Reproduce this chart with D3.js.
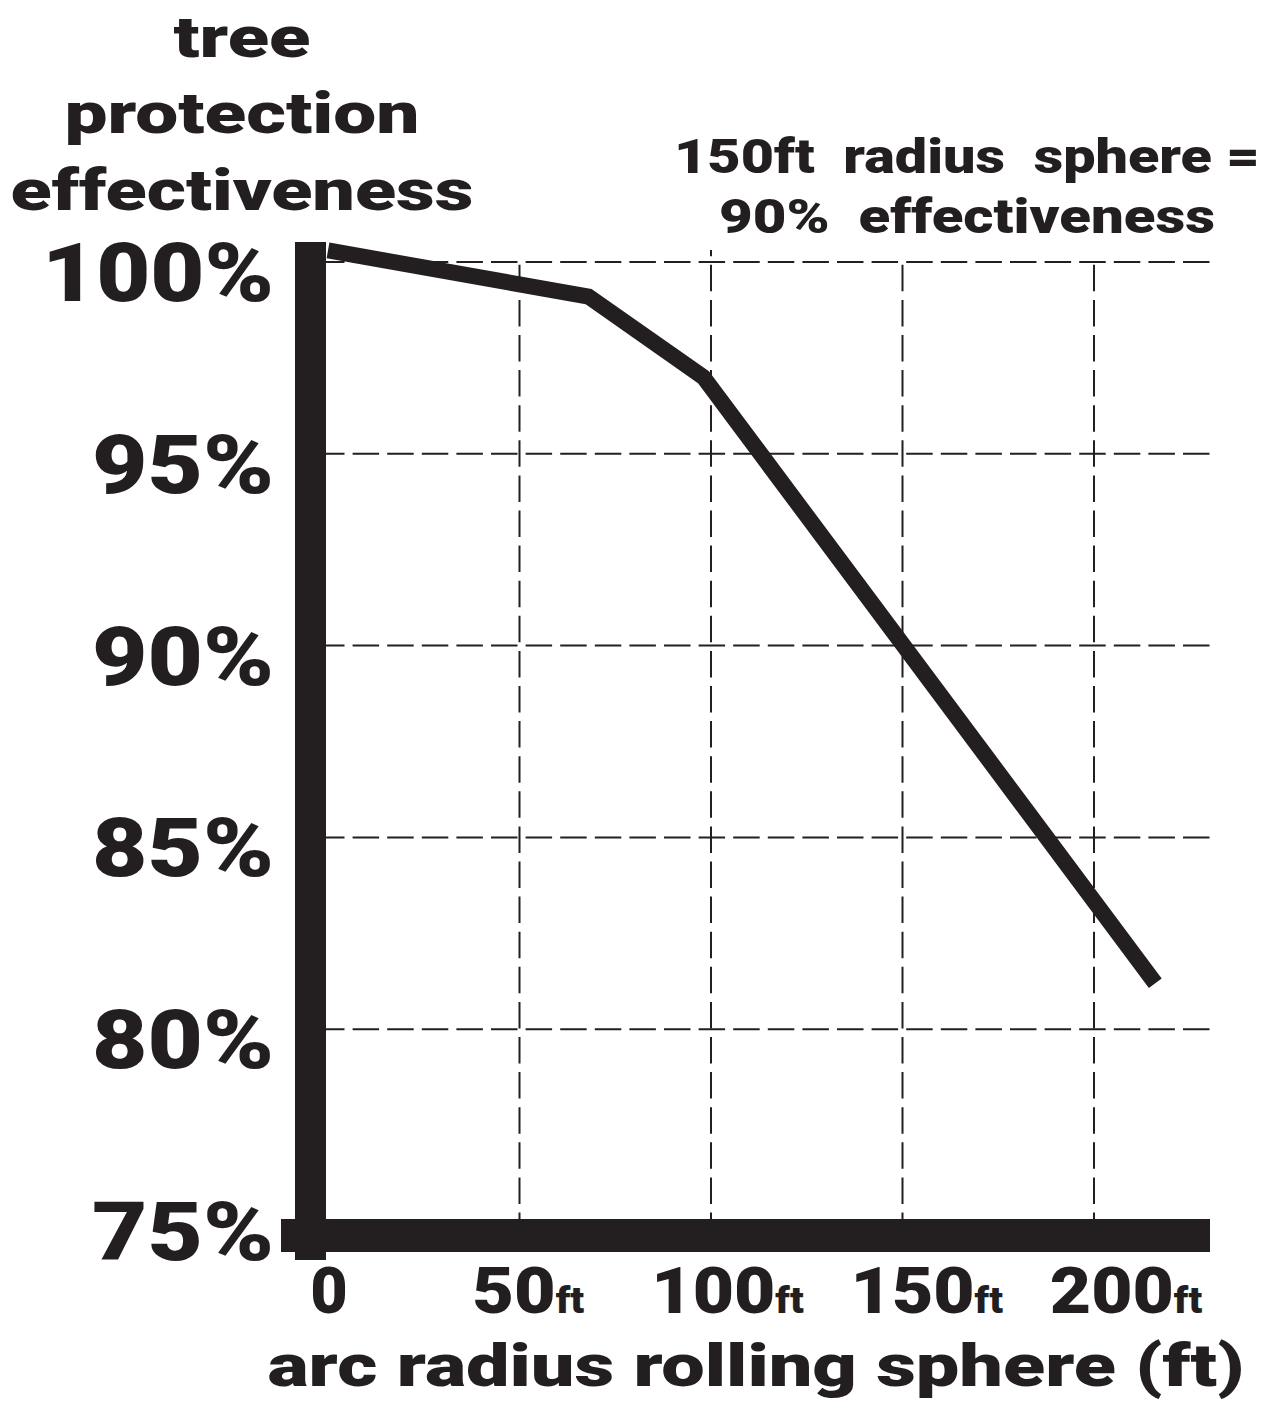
<!DOCTYPE html>
<html>
<head>
<meta charset="utf-8">
<script src="https://cdn.jsdelivr.net/npm/d3@7"></script>
<style>
  html, body { margin: 0; padding: 0; background: #fff; }
  svg { display: block; }
  text { font-family: Roboto, "Liberation Sans", sans-serif; font-weight: 900; fill: #231f20; }
</style>
</head>
<body>
<svg id="chart" width="1273" height="1401"></svg>
<script>
// ---- data ----
const radiusFt = [0, 68, 98, 216];
const effectiveness = [100.3, 99.1, 97.0, 81.2];
const yTicks = [75, 80, 85, 90, 95, 100];
const yTickLabels = ["75%", "80%", "85%", "90%", "95%", "100%"];
const xTicks = [0, 50, 100, 150, 200];
const xTickNumbers = ["0", "50", "100", "150", "200"];
const xTickUnits = ["", "ft", "ft", "ft", "ft"];
const titleLines = ["tree", "protection", "effectiveness"];
const noteLines = ["150ft  radius  sphere =", "90%  effectiveness"];
const xTitle = "arc radius rolling sphere (ft)";

const INK = "#231f20";
const svg = d3.select("#chart");
svg.append("rect").attr("width", 1273).attr("height", 1401).attr("fill", "#fff");

const x = d3.scaleLinear().domain([0, 200]).range([328, 1094]);
const y = d3.scaleLinear().domain([75, 100]).range([1221, 262]);
// tick label centres drift slightly right of grid in the original
const xLabel = d3.scaleLinear().domain([0, 200]).range([329, 1126]);
const xMax = 1210;

// ---- grid ----
const grid = svg.append("g").attr("stroke", INK).attr("stroke-width", 2).attr("fill", "none");
grid.selectAll("line.h").data(yTicks.filter(d => d > 75)).join("line")
  .attr("class", "h")
  .attr("x1", x(0) - 10).attr("x2", xMax)
  .attr("y1", d => y(d)).attr("y2", d => y(d))
  .attr("stroke-dasharray", "26.5 8.1");
grid.selectAll("line.v").data(xTicks.filter(d => d > 0)).join("line")
  .attr("class", "v")
  .attr("x1", d => x(d)).attr("x2", d => x(d))
  .attr("y1", y(75) + 18).attr("y2", d => d === 100 ? y(100) - 12 : y(100))
  .attr("stroke-dasharray", "26.5 8.6");

// ---- data line ----
const pts = radiusFt.map((r, i) => [r, effectiveness[i]]);
svg.append("path")
  .datum(pts)
  .attr("d", d3.line().x(d => x(d[0])).y(d => y(d[1])))
  .attr("fill", "none")
  .attr("stroke", INK)
  .attr("stroke-width", 16)
  .attr("stroke-linejoin", "miter")
  .attr("stroke-linecap", "butt");

// ---- heavy axes ----
svg.append("rect")
  .attr("x", x(0) - 33).attr("width", 31)
  .attr("y", y(100) - 20).attr("height", (y(75) + 39) - (y(100) - 20))
  .attr("fill", INK);
svg.append("rect")
  .attr("x", 281).attr("width", xMax - 281)
  .attr("y", y(75) - 2).attr("height", 33)
  .attr("fill", INK);

// ---- y tick labels ----
svg.selectAll("text.yl").data(yTicks).join("text")
  .attr("class", "yl")
  .attr("x", 274)
  .attr("y", d => y(d) + 39)
  .attr("text-anchor", "end")
  .attr("font-size", 82)
  .attr("textLength", (d, i) => (yTickLabels[i].length - 1) * 50 + 82)
  .attr("lengthAdjust", "spacingAndGlyphs")
  .text((d, i) => yTickLabels[i]);

// ---- x tick labels ----
const xl = svg.selectAll("text.xl").data(xTicks).join("text")
  .attr("class", "xl")
  .attr("x", d => xLabel(d))
  .attr("y", 1313)
  .attr("text-anchor", "middle")
  .attr("textLength", (d, i) => xTickNumbers[i].length * 40.5 + (xTickUnits[i] ? 31 : -3))
  .attr("lengthAdjust", "spacingAndGlyphs");
xl.append("tspan").attr("font-size", 64).text((d, i) => xTickNumbers[i]);
xl.append("tspan").attr("font-size", 36).text((d, i) => xTickUnits[i]);

// ---- axis title ----
svg.append("text")
  .attr("x", 756).attr("y", 1386)
  .attr("text-anchor", "middle")
  .attr("font-size", 60)
  .attr("textLength", 977).attr("lengthAdjust", "spacingAndGlyphs")
  .text(xTitle);

// ---- y title ----
const titleW = [137, 355, 463];
const titleB = [57, 133, 210];
svg.selectAll("text.yt").data(titleLines).join("text")
  .attr("class", "yt")
  .attr("x", 242).attr("y", (d, i) => titleB[i])
  .attr("text-anchor", "middle")
  .attr("font-size", 58)
  .attr("textLength", (d, i) => titleW[i]).attr("lengthAdjust", "spacingAndGlyphs")
  .text(d => d);

// ---- annotation ----
const noteW = [586, 496];
const noteB = [173, 233];
svg.selectAll("text.note").data(noteLines).join("text")
  .attr("class", "note")
  .attr("x", 967).attr("y", (d, i) => noteB[i])
  .attr("text-anchor", "middle")
  .attr("font-size", 48)
  .style("white-space", "pre")
  .attr("textLength", (d, i) => noteW[i]).attr("lengthAdjust", "spacingAndGlyphs")
  .text(d => d);
</script>
</body>
</html>
